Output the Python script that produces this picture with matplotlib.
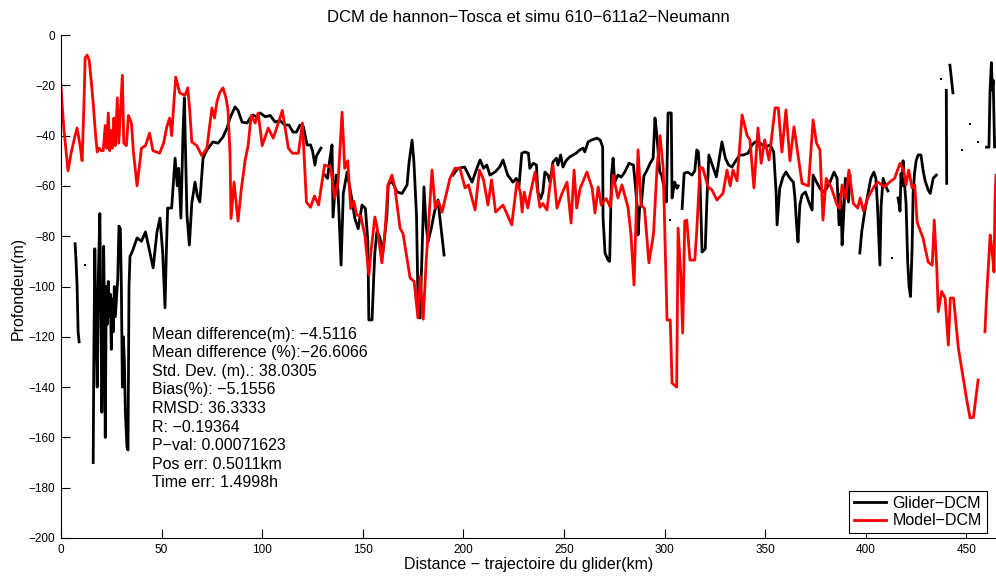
import numpy as np
import matplotlib
matplotlib.use('Agg')
import matplotlib.pyplot as plt

plt.rcParams['font.family'] = ['Liberation Sans', 'DejaVu Sans']

nan = np.nan

# Model-DCM (profondeur en m, distance en km)
model_km = [0, 0.5, 1.5, 3.5, 5, 7, 8, 9.5, 10.5, 11.5, 12, 13, 14, 15, 16, 17, 18, 19, 20, 21,
            22, 22.7, 23.5, 24.2, 25, 25.6, 26.3, 27, 28, 28.7, 30.5, 31.2, 32.5, 33.5, 35, 36, 37.8, 40, 42, 44,
            45.7, 49, 51, 52.6, 54, 55, 57, 59, 61.6, 63, 64, 65, 67.5, 70, 72.5, 75, 76.3, 77.5, 79, 80.5,
            82, 83, 84, 84.5, 86, 88, 89.5, 91.5, 93, 94.5, 96.5, 98, 100, 103, 105.5, 108, 110, 113, 115, 118,
            120, 122, 124, 126, 128, 131, 134, 136, 137.7, 139.7, 141, 142.5, 144, 145.5, 147, 149, 151, 153, 154.2, 155.2,
            156, 157, 159.5, 161, 162.5, 164.5, 166, 168.5, 170, 173.5, 175.5, 177.4, 178.5, 180, 181.5, 184.4, 186, 187.5, 189.4, 193.3,
            195.8, 198.3, 200.8, 202.5, 205.8, 208, 210, 212.2, 214, 216, 219.7, 224, 226.6, 228.3, 229.2, 230.2, 232, 233, 235.6, 238,
            239.5, 241.5, 243, 244.5, 246.5, 249, 251.5, 253.5, 255, 256.3, 258, 261.4, 264, 265.4, 267, 268.5, 271, 273, 274.4, 276.8,
            278.8, 281.8, 283.3, 284.8, 286.8, 288.3, 290, 292.2, 294.5, 296.2, 297.7, 299.3, 301.2, 302.8, 303.7, 306, 306.7, 308, 309, 310,
            311, 312.6, 315, 316, 317.6, 319, 321.6, 323.5, 326, 329, 331, 332.6, 334, 336, 338.5, 341, 342.4, 344.4, 346.4, 348,
            349.7, 351.9, 354.9, 356.5, 358.3, 360.3, 362.3, 364.3, 365.8, 368.3, 371.5, 373.8, 375.5, 377.2, 378.7, 380.3, 382.7, 385.7, 387, 388.2,
            390, 391.6, 393.8, 396, 397.2, 398.8, 401, 404.3, 406, 409.3, 411.8, 414.3, 417, 418.7, 420, 421.3, 423, 424.3, 425.5, 428.4,
            431, 433, 434, 435.3, 436, 437.7, 439.4, 441, 442, 443.6, 446, 450, 451.8, 453.5, 455.8, nan,
            459.2, 460, 461.8, 462.6, 463.7, 464.2, 464.7]
model_m = [-20, -27, -38, -54, -47, -40, -37, -44, -50, -25, -9, -8, -10, -18, -27, -38, -46.5, -45, -46, -46,
           -36, -45, -31, -46, -38, -45, -33, -44, -25, -43, -16, -43, -44, -32, -35, -46.5, -60, -45, -44, -39,
           -46, -47, -43, -36.5, -33, -40, -16.7, -23, -24, -21, -30, -42.5, -44, -48, -45, -29, -33, -26.5, -22.7, -21,
           -25, -30, -47, -73, -58.5, -74, -62, -50, -44, -32, -35, -31, -44, -37, -41, -35, -30, -45, -47, -47,
           -35, -66.5, -68.5, -64, -67.6, -51.7, -52.5, -65, -58.5, -30.7, -53, -50, -69, -66, -71.6, -72, -79.5, -95.4, -85, -78,
           -72.4, -76, -90.6, -78.7, -59.6, -55.7, -61, -76.8, -79, -96.6, -98, -112.5, -96, -113, -90, -53.7, -68.8, -66, -70.4, -57,
           -53, -53, -60.8, -59.6, -69.6, -53.7, -57.6, -67.6, -57.6, -70.4, -67.6, -75.5, -58.5, -62.5, -70.4, -62.5, -68.8, -64, -54.5, -68.5,
           -67, -69.6, -60, -51.7, -68.8, -63, -58.5, -74.8, -53.7, -68.8, -61, -54.5, -61, -70.8, -60.4, -67.6, -65, -68.5, -55.7, -64.8,
           -59.6, -68.5, -79.5, -99.4, -45.7, -67.6, -69, -90.6, -79, -53, -40, -53, -113.3, -113.3, -138.4, -140, -76.8, -95, -118.5, -74,
           -73.6, -89.5, -89.5, -77.5, -52.5, -53, -60.4, -61.6, -65.6, -63, -53.7, -60, -53.7, -58, -31.8, -40, -41.7, -60.8, -37, -51,
           -41.7, -49.7, -29, -29, -46.5, -29.8, -50, -36.5, -45, -59, -60, -33.8, -43, -45.7, -73.6, -57, -60.4, -67.6, -69, -59.6,
           -65, -53.7, -67, -68.8, -64.8, -70, -64.8, -60, -58.5, -60.4, -58.5, -57, -51, -53.5, -59.6, -53.7, -60.8, -59.6, -74.4, -80.7,
           -90.3, -91.5, -73.6, -93, -110, -102, -104.6, -123.3, -104.6, -104.6, -124.5, -144.3, -152.3, -152, -137.2, nan,
           -118, -104.6, -79.5, -84.8, -94.2, -66, -55.7]

# Glider-DCM (segments separes par nan)
glider_km = [7, 7.5, 8, 8.5, 9, nan,
             16, 16.3, 16.8, 17.5, 18, 18.6, 19.3, 19.8, 20.3, 20.8, 21.2, 21.6, 22, 22.5, 23, 23.5, 24, 24.5, 25, 25.5,
             26, 26.5, 27, 27.5, 28.2, 28.8, 29.5, 30, 30.5, 31, 31.5, 32, 32.8, 33.3, 33.8, 34.3, 35.5, 37.8, 40, 42,
             43.5, 45.8, 47.7, 49.2, 50.5, 51.7, 52.3, 53, 55, 56.7, 57.8, 58.5, 59.6, 60.6, 61.3, 62, 62.6, 63.8, 65, 66.6,
             67.8, 69, 70.6, 72.5, 75.5, 78, 80.5, 82.5, 84, 86.5, 88, 90, 92.5, 94, 95.4, 97, 99, 101.5, 104, 106.4,
             108.8, 111.3, 113.3, 115.3, 117, 118.8, 120.5, 122.3, 124, 125, 126.2, 127, 129.2, nan,
             131.2, 132.5, 133.5, 134.7, 135.2, 136.7, 137.7, 139.2, 140.3, 142.2, 143.4, 144.7, 146, 147.7, 149.6, 151.3, 152.5, 153, 154.6, 155.5,
             156, 157, 158.3, 160, 162, 162.6, 164.4, 167, 169.5, 172, 173, 174.5, 175.4, 176.7, 177.4, 178.4, 179.2, 180.4, 181.4, 182.4,
             184, 185.7, 187.4, 188.5, 190.4, nan,
             194.8, 197.3, 200.6, 204.3, 206.7, 208.3, 210, 211.6, 213.2, 215.7, 218, 219.7, 222, 224.6, 226.3, 227.6, 229, 230.6, 232.3, 233,
             234.7, 236.3, 237, 238.4, 239.5, 240.5, 242, 243, 244.5, 246.2, 247, 248.3, 249.5, 251, 252.8, 254.5, 256, 257.8, 259.5, 260.3,
             262, 263.6, 266.4, 268, 269.2, 269.4, 270.4, 271.9, 272.7, 273.6, 274.4, 275.2, 276.8, 278.5, 280.2, 282.3, 284.5, 285.3, 286.3, 286.8,
             287.6, 288.4, 289.7, 290.8, 292.8, 294.3, 295.2, 296, 296.8, 297.6, 298.5, 299.8, 300.9, 301.7, 303.3, 303.7, 305, 306.2, 306.8, nan,
             308.7, 309.7, 311.4, 313.6, 315, 316, 316.8, 317.6, 318.6, 320.2, 321, 322, 323.7, 325.7, 327.2, 328.5, 330.2, 331.8, 333.5, 335,
             337.3, 339.2, 341.5, 343.4, 345, 347.5, 350, 352.5, 354.2, 355.4, 355.9, 357.2, 358.8, 360.3, 362.3, 364, 364.8, 365.6, 366.3, 367.2,
             368.3, 370, 371.7, 373.3, 373.8, 375.5, 377.2, 378.8, 380.5, 382.2, 384.2, 385.7, 386.2, 386.7, 387.6, 388.2, 389, 389.8, 390.6, 391.4,
             392.2, nan,
             397, 398, 399.5, 401, 402.5, 404, 405, 405.8, 407, 407.6, 408.6, 409.8, 411, nan,
             416, 416.5, 417, 417.5, 418, 418.5, 419, 420, 420.8, 421.5, 422.2, 423, 423.5, 424.2, 425, 426, 427.4, 428.5, 429.5, 431,
             432, 433.5, 435, nan,
             440, 440.2, nan,
             441.8, 442.5, 443.3, nan,
             460, 461.2, 461.7, 462.4, 462.9, 463.3, 464]
glider_m = [-83, -90, -100, -118, -122, nan,
            -170, -130, -85, -120, -140, -95, -71, -110, -150, -125, -84, -110, -160, -100, -115, -98, -112, -103, -125, -105,
            -118, -100, -112, -106, -97, -76, -77, -100, -140, -120, -130, -150, -164, -165, -100, -88, -86, -80.7, -82, -78.3,
            -84, -92.6, -78.3, -72.8, -86, -108.5, -88, -68.8, -68.8, -49, -60, -53, -72.8, -39.8, -25, -50, -71.6, -83.5, -67, -58.5,
            -64, -66.4, -49, -45.7, -42.5, -43, -40.6, -37, -33, -28.6, -30, -34.6, -35, -33, -31.8, -32.5, -31, -32.5, -32, -34.6,
            -34, -35.8, -35.8, -38.6, -38.6, -35.8, -36.5, -43.7, -43.7, -46, -51.7, -48, -45, nan,
            -55.7, -57, -50, -43.7, -72.4, -55.7, -62, -91.5, -63, -54.5, -60, -66, -72.8, -77, -67.6, -69, -82, -113.3, -113.3, -95,
            -86.3, -78.3, -80, -86.3, -71.6, -59.6, -58, -62.4, -63, -59.6, -50.5, -41.8, -50.5, -72, -104.6, -112.5, -93, -60.4, -75, -82.3,
            -77, -70, -65.6, -74, -87.5, nan,
            -55.7, -53, -52.5, -58.5, -53, -49.7, -53, -51.7, -55.7, -54.5, -52.5, -49.7, -55.7, -58.5, -57, -60.5, -47, -46.5, -47, -53,
            -51, -51.7, -62.4, -65, -62.4, -54.5, -55.7, -58.5, -50.5, -49, -51.7, -47.7, -52.5, -50, -48.5, -47.7, -47, -45.7, -45, -46.5,
            -42.5, -41.8, -41, -41.8, -44.5, -72.8, -86.7, -89.5, -90, -55.7, -49, -58.5, -55.7, -56.5, -54.5, -51, -51.7, -58.5, -67.6, -79.5,
            -68.8, -67.6, -56, -54.5, -51, -49, -33, -38.6, -46.5, -54.5, -55.7, -61, -66.4, -31, -31, -64.8, -58.5, -61, -60, nan,
            -69, -55, -54.5, -55.7, -54, -45.7, -46.5, -58.5, -86.3, -85, -66, -47.7, -51.7, -56.4, -49, -42.5, -49, -51.7, -52.5, -50.5,
            -47.7, -47.7, -47, -43.7, -42.5, -43, -44.5, -43.7, -46.5, -62.4, -75.5, -61, -56.5, -54.5, -57, -58.5, -65, -75.5, -82.3, -67.6,
            -63.6, -62.4, -66.4, -69.6, -55.7, -58.5, -61, -62.4, -61, -58.5, -54.5, -57, -66, -75.5, -63, -83.5, -71.6, -57, -58.5, -66.4,
            -56, nan,
            -86.7, -78, -70, -63.6, -57, -54.5, -57, -68, -91.5, -68, -57, -60, -62, nan,
            -64.8, -67, -70, -55, -60, -50, -57, -67, -90, -100, -104, -85, -63, -55, -50, -47.7, -47.7, -54, -58, -61.6,
            -63, -57, -55.7, nan,
            -22, -59, nan,
            -12, -17, -23, nan,
            -44.6, -44.6, -23, -11, -22, -18, -44.5]

# points isoles du glider
dots_km = [12, 302.7, 413, 437.4, 447.8, 451.8, 455.8]
dots_m = [-91.5, -73.6, -88.7, -17.5, -45.7, -35.4, -42.5]

stats_lines = ['Mean difference(m): \u22124.5116',
               'Mean difference (%):\u221226.6066',
               'Std. Dev. (m).: 38.0305',
               'Bias(%): \u22125.1556',
               'RMSD: 36.3333',
               'R: \u22120.19364',
               'P\u2212val: 0.00071623',
               'Pos err: 0.5011km',
               'Time err: 1.4998h']

fig = plt.figure(figsize=(9.96, 5.76), dpi=100)
ax = fig.add_axes([61 / 996, 1 - 538 / 576, 935 / 996, 503 / 576])

ax.plot(glider_km, glider_m, color='k', lw=2, label='Glider\u2212DCM')
ax.plot(model_km, model_m, color='r', lw=2, label='Model\u2212DCM')
ax.plot(dots_km, dots_m, 's', color='k', ms=2, mew=0)

ax.set_xlim(0, 464.7)
ax.set_ylim(-200, 0)
ax.set_xticks(np.arange(0, 451, 50))
ax.set_yticks(np.arange(-200, 1, 20))
ax.tick_params(direction='in', length=6.5, width=0.8, labelsize=8.5, pad=4)
ax.spines['top'].set_visible(False)
ax.spines['right'].set_visible(False)

for i, line in enumerate(stats_lines):
    ax.text(45.2, -118.9 - i * 7.4, line, fontsize=11.5, va='center', ha='left')

leg = ax.legend(loc='lower right', bbox_to_anchor=(0.99, 0.01), borderaxespad=0, fontsize=11.5,
                handlelength=2.0, fancybox=False, framealpha=1, borderpad=0.3, labelspacing=0.15,
                handletextpad=0.4)
leg.get_frame().set_edgecolor('k')
leg.get_frame().set_linewidth(0.8)

fig.text(528.5 / 996, 1 - 17 / 576, 'DCM de hannon\u2212Tosca et simu 610\u2212611a2\u2212Neumann',
         ha='center', va='center', fontsize=12)
fig.text(528.5 / 996, 1 - 564 / 576, 'Distance \u2212 trajectoire du glider(km)',
         ha='center', va='center', fontsize=11.5)
fig.text(18 / 996, 1 - 288 / 576, 'Profondeur(m)', rotation=90,
         ha='center', va='center', fontsize=11.5)

fig.savefig('out.png', dpi=100)
